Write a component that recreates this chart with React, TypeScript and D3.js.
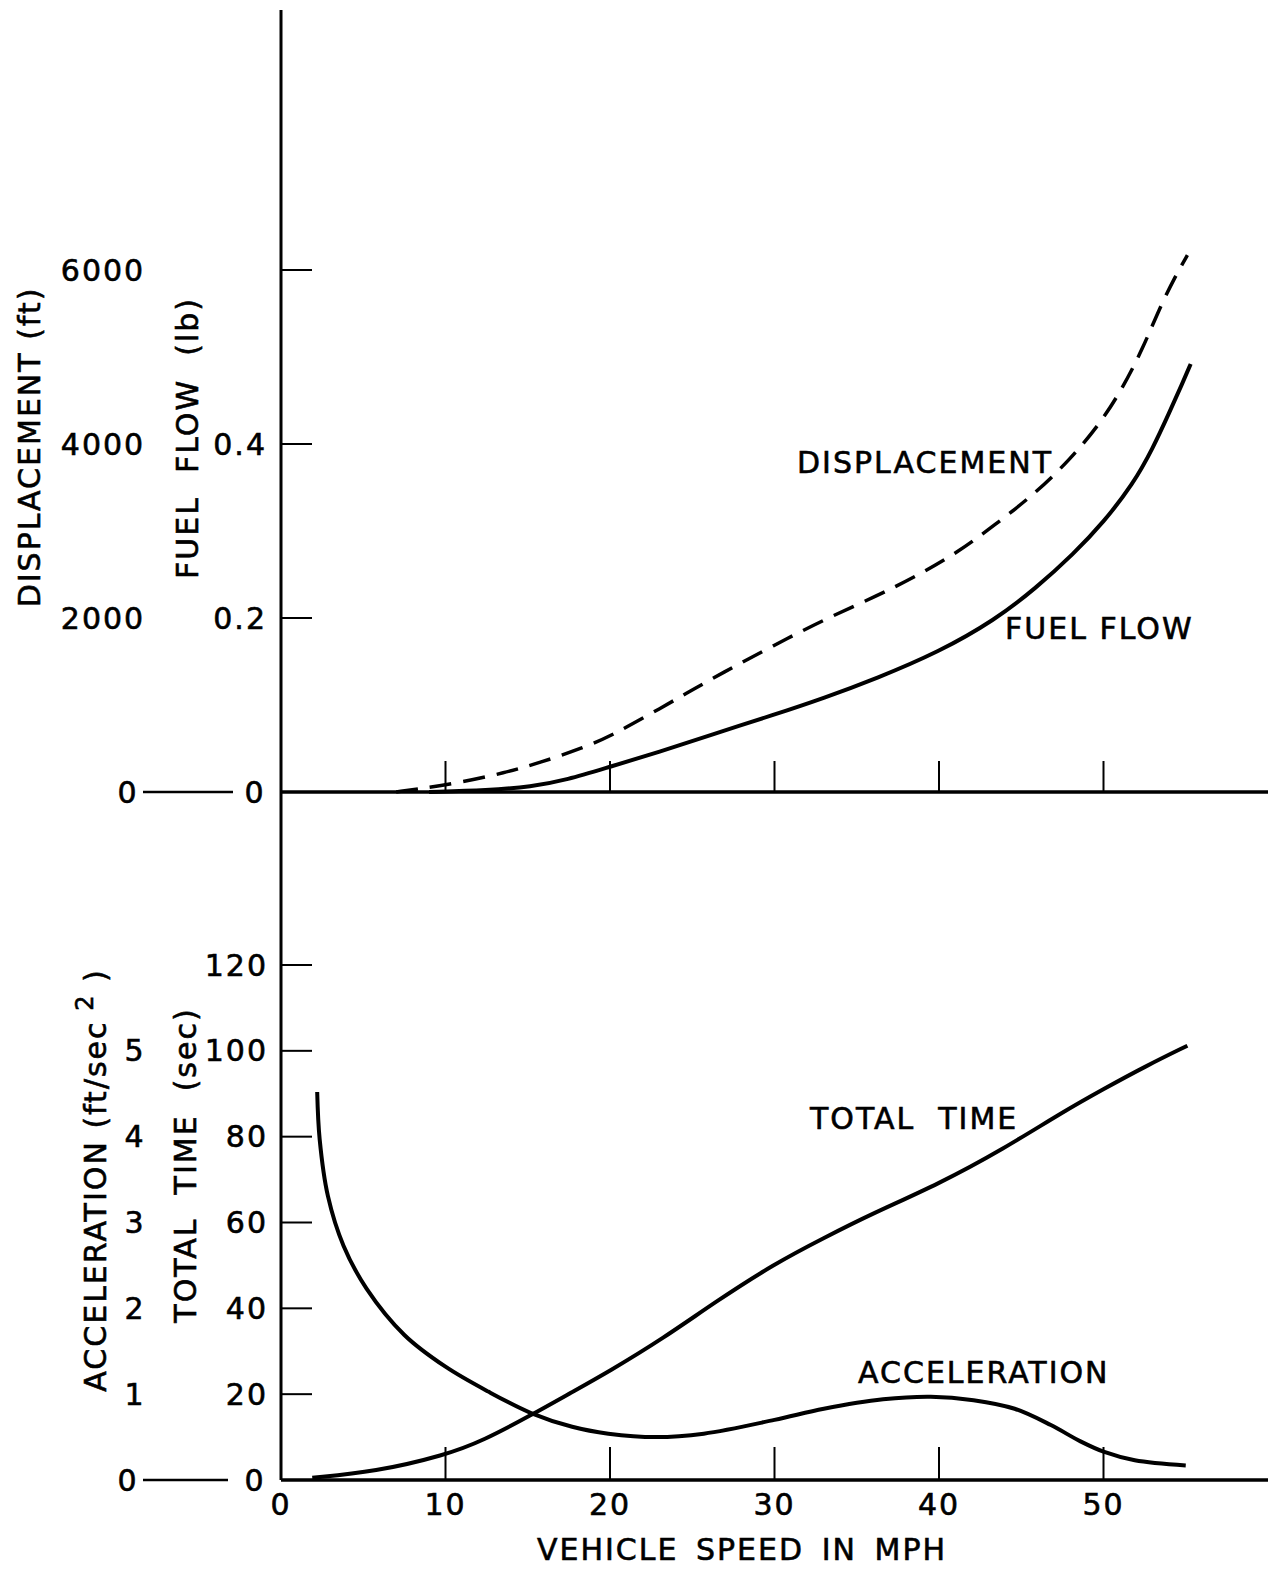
import * as d3 from 'd3';

const WIDTH = 1277;
const HEIGHT = 1569;

// horizontal layout (shared by both panels)
const AXIS_X = 281;
const AXIS_RIGHT = 1268;
const AXIS_TOP = 10;

// top panel: fuel flow / displacement
const TOP_ZERO = 792;
const TOP_MAX = 270;

// bottom panel: total time / acceleration
const BOT_ZERO = 1480;
const BOT_MAX = 965;

const TICK_LEN = 31;
const FONT = "'DejaVu Sans', 'Liberation Sans', sans-serif";

// ---- data ----
const speedTicks = [10, 20, 30, 40, 50];
const speedLabels = [0, 10, 20, 30, 40, 50];

const fuelTicks = [0.2, 0.4, 0.6];
const fuelLabels = [0.2, 0.4];
const displacementLabels = [2000, 4000, 6000];

const timeTicks = [20, 40, 60, 80, 100, 120];
const accelLabels = [1, 2, 3, 4, 5];

const displacementSpeed = [7.0, 8.7, 10.8, 13.6, 15.8, 18.4, 20.0, 22.3, 24.7, 26.8, 29.9, 33.1, 36.2, 38.8, 41.1, 43.4, 45.9, 47.9, 49.7, 51.1, 52.4, 53.4, 54.4, 55.1];
const displacementFt = [0, 45, 105, 220, 340, 510, 640, 880, 1140, 1366, 1680, 1990, 2250, 2500, 2750, 3070, 3440, 3810, 4210, 4620, 5100, 5560, 5940, 6170];

const fuelSpeed = [9.0, 12.6, 15.2, 17.4, 19.9, 23.0, 26.2, 30.0, 33.0, 36.2, 40.0, 43.4, 45.9, 48.2, 50.0, 51.8, 53.0, 54.0, 54.8, 55.3];
const fuelLb = [0, 0.002, 0.006, 0.014, 0.0285, 0.046, 0.066, 0.089, 0.108, 0.1305, 0.161, 0.1977, 0.2344, 0.274, 0.31, 0.354, 0.395, 0.436, 0.47, 0.492];

const timeSpeed = [1.9, 5.7, 10.0, 12.3, 15.2, 17.7, 19.9, 23.2, 26.4, 30.0, 33.0, 35.9, 40.0, 43.9, 47.5, 50.0, 52.6, 55.1];
const timeSec = [0.5, 1.9, 5.8, 9.2, 15.1, 20.5, 25.2, 32.9, 41.5, 50.4, 56.4, 62.0, 69.0, 77.1, 85.7, 91.1, 96.5, 101.2];

const accelSpeed = [2.2, 2.35, 2.85, 3.8, 5.2, 7.5, 10.0, 12.6, 15.2, 17.7, 19.9, 22.8, 25.7, 30.0, 33.0, 36.6, 39.5, 42.1, 44.6, 46.8, 48.6, 50.0, 51.9, 55.0];
const accelFtSec2 = [4.52, 3.97, 3.31, 2.73, 2.23, 1.69, 1.32, 1.03, 0.78, 0.62, 0.54, 0.5, 0.54, 0.7, 0.83, 0.94, 0.97, 0.93, 0.83, 0.64, 0.45, 0.33, 0.23, 0.17];

const zip = (xs: number[], ys: number[]) => xs.map((x, i) => [x, ys[i]] as [number, number]);

const App = () => {
    const xScale = d3.scaleLinear().domain([0, 60]).range([AXIS_X, AXIS_RIGHT]);

    const fuelScale = d3.scaleLinear().domain([0, 0.6]).range([TOP_ZERO, TOP_MAX]);
    const dispScale = d3.scaleLinear().domain([0, 6000]).range([TOP_ZERO, TOP_MAX]);
    const timeScale = d3.scaleLinear().domain([0, 120]).range([BOT_ZERO, BOT_MAX]);
    const accelScale = d3.scaleLinear().domain([0, 6]).range([BOT_ZERO, BOT_MAX]);

    const makeLine = (yScale: d3.ScaleLinear<number, number>, curve: d3.CurveFactory) =>
        d3
            .line<[number, number]>()
            .x((d) => xScale(d[0]))
            .y((d) => yScale(d[1]))
            .curve(curve);

    const dispPath = makeLine(dispScale, d3.curveBasis)(zip(displacementSpeed, displacementFt)) || '';
    const fuelPath = makeLine(fuelScale, d3.curveBasis)(zip(fuelSpeed, fuelLb)) || '';
    const timePath = makeLine(timeScale, d3.curveBasis)(zip(timeSpeed, timeSec)) || '';
    const accelPath = makeLine(accelScale, d3.curveCatmullRom.alpha(0.5))(zip(accelSpeed, accelFtSec2)) || '';

    const text = {
        fontFamily: FONT,
        fontSize: 30,
        letterSpacing: 2,
        fill: '#000',
        stroke: '#000',
        strokeWidth: 0.6,
        style: { whiteSpace: 'pre' },
    } as const;

    return (
        <svg
            width={WIDTH}
            height={HEIGHT}
            style={{ position: 'absolute', left: 0, top: 0, background: '#fff' }}
        >
            <rect width={WIDTH} height={HEIGHT} fill="#fff" />

            {/* axes */}
            <line x1={AXIS_X} x2={AXIS_X} y1={AXIS_TOP} y2={BOT_ZERO} stroke="#000" strokeWidth={3} />
            <line x1={AXIS_X} x2={AXIS_RIGHT} y1={TOP_ZERO} y2={TOP_ZERO} stroke="#000" strokeWidth={3.5} />
            <line x1={AXIS_X} x2={AXIS_RIGHT} y1={BOT_ZERO} y2={BOT_ZERO} stroke="#000" strokeWidth={3.5} />

            {/* speed ticks, both panels */}
            {speedTicks.map((s) => (
                <g key={'st' + s}>
                    <line x1={xScale(s)} x2={xScale(s)} y1={TOP_ZERO} y2={TOP_ZERO - TICK_LEN} stroke="#000" strokeWidth={2} />
                    <line x1={xScale(s)} x2={xScale(s)} y1={BOT_ZERO} y2={BOT_ZERO - TICK_LEN - 2} stroke="#000" strokeWidth={2} />
                </g>
            ))}
            {speedLabels.map((s) => (
                <text key={'sl' + s} x={xScale(s)} y={BOT_ZERO + 24} textAnchor="middle" dominantBaseline="central" {...text}>
                    {s}
                </text>
            ))}
            <text x={742} y={1549} textAnchor="middle" dominantBaseline="central" wordSpacing={6} {...text}>
                VEHICLE SPEED IN MPH
            </text>

            {/* top panel y ticks */}
            {fuelTicks.map((v) => (
                <line key={'ft' + v} x1={AXIS_X} x2={AXIS_X + TICK_LEN} y1={fuelScale(v)} y2={fuelScale(v)} stroke="#000" strokeWidth={2} />
            ))}
            {fuelLabels.map((v) => (
                <text key={'fl' + v} x={267} y={fuelScale(v)} textAnchor="end" dominantBaseline="central" {...text}>
                    {v.toFixed(1)}
                </text>
            ))}
            {displacementLabels.map((v) => (
                <text key={'dl' + v} x={103} y={dispScale(v)} textAnchor="middle" dominantBaseline="central" {...text}>
                    {v}
                </text>
            ))}
            <text x={128} y={TOP_ZERO} textAnchor="middle" dominantBaseline="central" {...text}>0</text>
            <line x1={143} x2={233} y1={TOP_ZERO} y2={TOP_ZERO} stroke="#000" strokeWidth={2.5} />
            <text x={255} y={TOP_ZERO} textAnchor="middle" dominantBaseline="central" {...text}>0</text>

            <text transform="translate(29,447) rotate(-90)" textAnchor="middle" dominantBaseline="central" {...text}>
                DISPLACEMENT (ft)
            </text>
            <text transform="translate(187,438) rotate(-90)" textAnchor="middle" dominantBaseline="central" {...text}>
                {'FUEL  FLOW  (lb)'}
            </text>

            {/* bottom panel y ticks */}
            {timeTicks.map((v) => (
                <g key={'tt' + v}>
                    <line x1={AXIS_X} x2={AXIS_X + TICK_LEN} y1={timeScale(v)} y2={timeScale(v)} stroke="#000" strokeWidth={2} />
                    <text x={268} y={timeScale(v)} textAnchor="end" dominantBaseline="central" {...text}>
                        {v}
                    </text>
                </g>
            ))}
            {accelLabels.map((v) => (
                <text key={'al' + v} x={135} y={accelScale(v)} textAnchor="middle" dominantBaseline="central" {...text}>
                    {v}
                </text>
            ))}
            <text x={128} y={BOT_ZERO} textAnchor="middle" dominantBaseline="central" {...text}>0</text>
            <line x1={143} x2={228} y1={BOT_ZERO} y2={BOT_ZERO} stroke="#000" strokeWidth={2.5} />
            <text x={255} y={BOT_ZERO} textAnchor="middle" dominantBaseline="central" {...text}>0</text>

            <text transform="translate(95,1180) rotate(-90)" textAnchor="middle" dominantBaseline="central" {...text}>
                {'ACCELERATION (ft/sec'}
                <tspan fontSize={24} dy={-10}>{' 2'}</tspan>
                <tspan dy={10}>{' )'}</tspan>
            </text>
            <text transform="translate(185,1165) rotate(-90)" textAnchor="middle" dominantBaseline="central" {...text}>
                {'TOTAL  TIME  (sec)'}
            </text>

            {/* curves */}
            <path d={dispPath} fill="none" stroke="#000" strokeWidth={3.5} strokeDasharray="22 12" />
            <path d={fuelPath} fill="none" stroke="#000" strokeWidth={4} />
            <path d={timePath} fill="none" stroke="#000" strokeWidth={4} />
            <path d={accelPath} fill="none" stroke="#000" strokeWidth={4} />

            {/* curve labels */}
            <text x={797} y={462} dominantBaseline="central" {...text}>DISPLACEMENT</text>
            <text x={1005} y={628} dominantBaseline="central" {...text}>FUEL FLOW</text>
            <text x={810} y={1118} dominantBaseline="central" {...text}>{'TOTAL  TIME'}</text>
            <text x={858} y={1372} dominantBaseline="central" {...text}>ACCELERATION</text>
        </svg>
    );
};

export default App;
